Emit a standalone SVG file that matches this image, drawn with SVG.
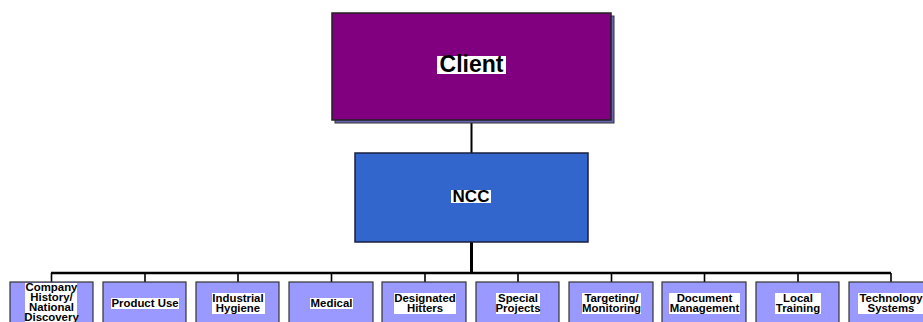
<svg xmlns="http://www.w3.org/2000/svg" width="923" height="322" viewBox="0 0 923 322">
<style>
.t{font-family:"Liberation Sans",Arial,sans-serif;font-weight:bold;fill:#000;text-anchor:middle}
.c{font-size:11.4px}
.hl{fill:#fff}
.child{fill:#9999ff;stroke:#333;stroke-width:1.2}
.ln{stroke:#000;fill:none}
</style>
<rect width="923" height="322" fill="#fff"/>
<g id="connectors">
<line class="ln" x1="471.5" y1="120" x2="471.5" y2="153" stroke-width="2"/>
<line class="ln" x1="471.5" y1="242" x2="471.5" y2="273" stroke-width="3"/>
<line class="ln" x1="51" y1="273" x2="891" y2="273" stroke-width="2.5"/>
<g stroke-width="1.6" class="ln">
<line x1="51.5" y1="273" x2="51.5" y2="282"/>
<line x1="145" y1="273" x2="145" y2="282"/>
<line x1="238" y1="273" x2="238" y2="282"/>
<line x1="331.5" y1="273" x2="331.5" y2="282"/>
<line x1="425" y1="273" x2="425" y2="282"/>
<line x1="518" y1="273" x2="518" y2="282"/>
<line x1="611.5" y1="273" x2="611.5" y2="282"/>
<line x1="704.5" y1="273" x2="704.5" y2="282"/>
<line x1="798" y1="273" x2="798" y2="282"/>
<line x1="891" y1="273" x2="891" y2="282"/>
</g>
</g>
<g id="client">
<rect x="335" y="16" width="279" height="107" fill="#6666b0" stroke="#333" stroke-width="1"/>
<rect x="332" y="13" width="279" height="107" fill="#800080" stroke="#222" stroke-width="1.5"/>
<rect class="hl" x="437" y="56" width="69" height="18"/>
<text class="t" x="471.5" y="72" font-size="23">Client</text>
</g>
<g id="ncc">
<rect x="355" y="153" width="233" height="89" fill="#3366cc" stroke="#1a2040" stroke-width="1.5"/>
<rect class="hl" x="451" y="190" width="40" height="13"/>
<text class="t" x="471" y="202" font-size="17">NCC</text>
</g>
<g id="n1">
<rect class="child" x="10" y="282" width="83" height="50"/>
<rect class="hl" x="25" y="283" width="52" height="40"/>
<text class="t c" x="51.5" y="291">Company</text>
<text class="t c" x="51.5" y="301">History/</text>
<text class="t c" x="51.5" y="311">National</text>
<text class="t c" x="51.5" y="321">Discovery</text>
</g>
<g id="n2">
<rect class="child" x="103" y="282" width="83" height="50"/>
<rect class="hl" x="111" y="298" width="68" height="11"/>
<text class="t c" x="145" y="307">Product Use</text>
</g>
<g id="n3">
<rect class="child" x="196" y="282" width="83" height="50"/>
<rect class="hl" x="212" y="293" width="53" height="21"/>
<text class="t c" x="238" y="302">Industrial</text>
<text class="t c" x="238" y="312">Hygiene</text>
</g>
<g id="n4">
<rect class="child" x="289" y="282" width="84" height="50"/>
<rect class="hl" x="310" y="298" width="43" height="11"/>
<text class="t c" x="331.5" y="307">Medical</text>
</g>
<g id="n5">
<rect class="child" x="382" y="282" width="84" height="50"/>
<rect class="hl" x="394" y="293" width="62" height="21"/>
<text class="t c" x="425" y="302">Designated</text>
<text class="t c" x="425" y="312">Hitters</text>
</g>
<g id="n6">
<rect class="child" x="476" y="282" width="83" height="50"/>
<rect class="hl" x="496" y="293" width="44" height="21"/>
<text class="t c" x="518" y="302">Special</text>
<text class="t c" x="518" y="312">Projects</text>
</g>
<g id="n7">
<rect class="child" x="569" y="282" width="84" height="50"/>
<rect class="hl" x="582" y="293" width="59" height="21"/>
<text class="t c" x="611.5" y="302">Targeting/</text>
<text class="t c" x="611.5" y="312">Monitoring</text>
</g>
<g id="n8">
<rect class="child" x="662" y="282" width="84" height="50"/>
<rect class="hl" x="669" y="293" width="71" height="21"/>
<text class="t c" x="704.5" y="302">Document</text>
<text class="t c" x="704.5" y="312">Management</text>
</g>
<g id="n9">
<rect class="child" x="756" y="282" width="83" height="50"/>
<rect class="hl" x="775" y="293" width="46" height="21"/>
<text class="t c" x="798" y="302">Local</text>
<text class="t c" x="798" y="312">Training</text>
</g>
<g id="n10">
<rect class="child" x="849" y="282" width="84" height="50"/>
<rect class="hl" x="858" y="293" width="66" height="21"/>
<text class="t c" x="891" y="302">Technology</text>
<text class="t c" x="891" y="312">Systems</text>
</g>
</svg>
